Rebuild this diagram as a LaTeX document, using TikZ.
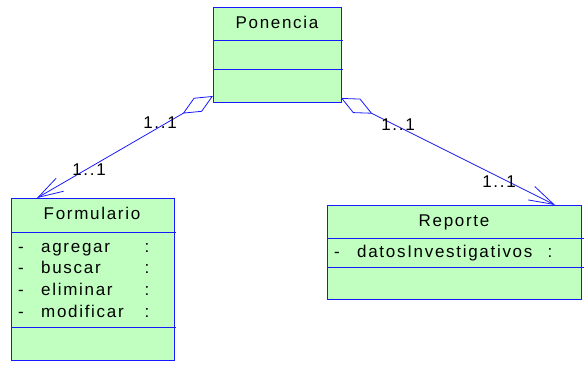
\documentclass[tikz,border=0pt]{standalone}
\usepackage{fontspec}
\setmainfont[LetterSpace=10]{Liberation Sans}
\usetikzlibrary{arrows.meta}

\definecolor{umlfill}{RGB}{192,255,192}
\definecolor{umlline}{RGB}{25,25,255}

\begin{document}
\begin{tikzpicture}[x=1pt,y=-1pt,font=\fontsize{17}{20}\selectfont,
  clase/.style={draw=umlline,fill=umlfill,line width=1pt,inner sep=0pt,anchor=north west},
  sep/.style={umlline,line width=0.8pt},
  txt/.style={inner sep=0pt,anchor=base},
  assoc/.style={umlline,line width=0.8pt,
    {Diamond[open,length=35pt,width=16pt]}-{Straight Barb[length=25pt,width=15pt]}}]
\useasboundingbox (0,0) rectangle (585,365);

% Ponencia class
\node[clase,minimum width=128pt,minimum height=95pt] (ponencia) at (213,7) {};
\draw[sep] (213,40) -- (343,40);
\draw[sep] (213,69) -- (343,69);
\node[txt] (ponTit) at (277,28) {Ponencia};

% Formulario class
\node[clase,minimum width=163pt,minimum height=162pt] (formulario) at (11,198) {};
\draw[sep] (11,232) -- (176,232);
\draw[sep] (11,327) -- (176,327);
\node[txt] (forTit) at (92,219) {Formulario};
\node[txt] (forG1) at (21,252) {-};
\node[txt,anchor=base west] (forA1) at (41,252) {agregar};
\node[txt] (forC1) at (147,252) {:};
\node[txt] (forG2) at (21,273.7) {-};
\node[txt,anchor=base west] (forA2) at (41,273.7) {buscar};
\node[txt] (forC2) at (147,273.7) {:};
\node[txt] (forG3) at (21,295.4) {-};
\node[txt,anchor=base west] (forA3) at (41,295.4) {eliminar};
\node[txt] (forC3) at (147,295.4) {:};
\node[txt] (forG4) at (21,317) {-};
\node[txt,anchor=base west] (forA4) at (41,317) {modificar};
\node[txt] (forC4) at (147,317) {:};

% Reporte class
\node[clase,minimum width=254pt,minimum height=94pt] (reporte) at (327,205) {};
\draw[sep] (327,238) -- (584,238);
\draw[sep] (327,267) -- (584,267);
\node[txt] (repTit) at (454,226) {Reporte};
\node[txt] (repG1) at (337,257) {-};
\node[txt,anchor=base west] (repA1) at (357,257) {datosInvestigativos};
\node[txt] (repC1) at (550,257) {:};

% association ends
\coordinate (ponL) at (213,96);
\coordinate (ponR) at (341,98);
\coordinate (forEnd) at (37,198);
\coordinate (repEnd) at (555,205);

\draw[assoc] (ponL) -- (forEnd);
\draw[assoc] (ponR) -- (repEnd);

% multiplicities
\node[inner sep=0pt] (m1) at (160,123) {1..1};
\node[inner sep=0pt] (m2) at (89,170) {1..1};
\node[inner sep=0pt] (m3) at (398,125) {1..1};
\node[inner sep=0pt] (m4) at (499,182) {1..1};
\end{tikzpicture}
\end{document}
